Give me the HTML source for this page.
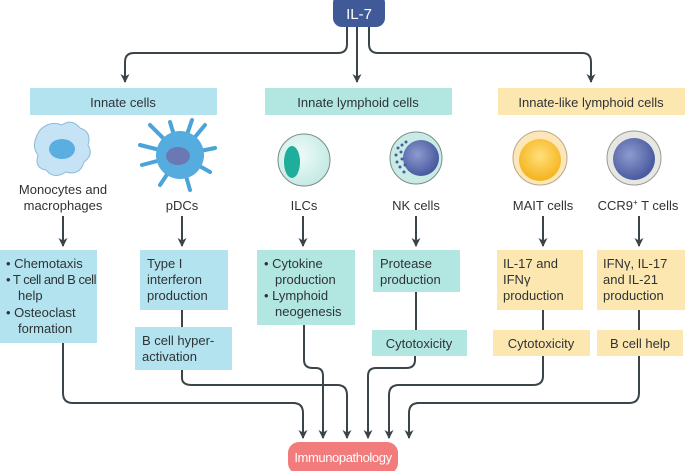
<!DOCTYPE html>
<html><head><meta charset="utf-8"><style>
html,body{margin:0;padding:0;background:#fff;width:685px;height:471px;overflow:hidden}
svg{display:block}
text{font-family:"Liberation Sans",sans-serif;font-size:13px;fill:#2e3336}
</style></head><body>
<svg width="685" height="471" viewBox="0 0 685 471">
<defs>
<marker id="a" markerWidth="10" markerHeight="10" refX="8" refY="4.5" orient="auto" markerUnits="userSpaceOnUse">
<path d="M0,0 L9,4.5 L0,9 L2.5,4.5 Z" fill="#3b4549"/></marker>
<radialGradient id="gy" cx="50%" cy="40%" r="60%"><stop offset="0" stop-color="#ffe07a"/><stop offset="1" stop-color="#f5b21c"/></radialGradient>
<radialGradient id="gb" cx="40%" cy="40%" r="60%"><stop offset="0" stop-color="#8e9bd0"/><stop offset="1" stop-color="#4a5a9f"/></radialGradient>
<radialGradient id="gt" cx="40%" cy="40%" r="70%"><stop offset="0" stop-color="#f0fbf9"/><stop offset="1" stop-color="#bfe8e1"/></radialGradient>
</defs>
<g fill="none" stroke="#3b4549" stroke-width="2">
<path d="M347,27 V44 Q347,53 338,53 H134 Q125,53 125,62 V82" marker-end="url(#a)"/>
<path d="M357,27 V82" marker-end="url(#a)"/>
<path d="M369,27 V44 Q369,53 378,53 H582 Q591,53 591,62 V82" marker-end="url(#a)"/>
<path d="M63,216 V246" marker-end="url(#a)"/>
<path d="M182,216 V246" marker-end="url(#a)"/>
<path d="M303,216 V246" marker-end="url(#a)"/>
<path d="M416,216 V246" marker-end="url(#a)"/>
<path d="M543,216 V246" marker-end="url(#a)"/>
<path d="M639,216 V246" marker-end="url(#a)"/>
<path d="M182,310 V327"/>
<path d="M416,292 V330"/>
<path d="M543,310 V330"/>
<path d="M639,310 V330"/>
<path d="M63,343 V393 Q63,403 73,403 H293 Q303,403 303,413 V438" marker-end="url(#a)"/>
<path d="M182,370 V378 Q182,385 192,385 H337 Q347,385 347,395 V438" marker-end="url(#a)"/>
<path d="M304,325 V360 Q304,368 313,368 H316 Q323,368 323,376 V438" marker-end="url(#a)"/>
<path d="M415,356 V360 Q415,368 406,368 H376 Q368,368 368,376 V438" marker-end="url(#a)"/>
<path d="M543,356 V376 Q543,385 533,385 H399 Q389,385 389,395 V438" marker-end="url(#a)"/>
<path d="M639,356 V393 Q639,403 629,403 H419 Q409,403 409,413 V438" marker-end="url(#a)"/>
</g>
<rect x="333" y="-6" width="52" height="33" rx="9" fill="#3f5a96"/>
<text x="359" y="19" text-anchor="middle" style="fill:#fff;font-size:15px">IL-7</text>
<rect x="30" y="88" width="187" height="27" fill="#b3e3ef"/>
<text x="123" y="107" text-anchor="middle">Innate cells</text>
<rect x="265" y="88" width="187" height="27" fill="#b2e6e0"/>
<text x="358" y="107" text-anchor="middle">Innate lymphoid cells</text>
<rect x="498" y="88" width="187" height="27" fill="#fde7b0"/>
<text x="591" y="107" text-anchor="middle">Innate-like lymphoid cells</text>
<path d="M40,130 Q50,120 62,125 Q72,118 80,128 Q92,132 88,145 Q94,155 84,162 Q80,176 66,172 Q54,180 46,170 Q34,168 38,155 Q30,145 40,130Z" fill="#c6e2f5" stroke="#8bbad8" stroke-width="1"/>
<ellipse cx="62" cy="149" rx="13" ry="10" fill="#5aaee0"/>
<g stroke="#4aa3d9" stroke-width="4" stroke-linecap="round">
<path d="M180,155 L150,125 M180,155 L170,122 M180,155 L192,120 M180,155 L205,125 M180,155 L215,148 M180,155 L210,172 M180,155 L190,190 M180,155 L160,185 M180,155 L142,165 M180,155 L140,145"/>
</g>
<circle cx="180" cy="155" r="24" fill="#55acdf"/>
<ellipse cx="178" cy="156" rx="12" ry="9" fill="#6c78b4"/>
<circle cx="304" cy="160" r="26" fill="url(#gt)" stroke="#7a8c88" stroke-width="1"/>
<ellipse cx="292" cy="162" rx="8" ry="16" fill="#1fae9b"/>
<circle cx="416" cy="158" r="26" fill="#c8ece5" stroke="#7a8c88" stroke-width="1"/>
<circle cx="421" cy="158" r="18" fill="url(#gb)"/>
<g fill="#4a5a9f"><circle cx="398" cy="148" r="1.5"/><circle cx="402" cy="145" r="1.5"/><circle cx="396" cy="155" r="1.5"/><circle cx="401" cy="152" r="1.5"/><circle cx="397" cy="162" r="1.5"/><circle cx="402" cy="159" r="1.5"/><circle cx="400" cy="167" r="1.5"/><circle cx="405" cy="165" r="1.5"/><circle cx="406" cy="142" r="1.5"/><circle cx="404" cy="172" r="1.5"/></g>
<circle cx="540" cy="158" r="27" fill="#fde7b8" stroke="#b8a98a" stroke-width="1"/>
<circle cx="540" cy="160" r="21" fill="url(#gy)"/>
<circle cx="634" cy="158" r="27" fill="#e6e6e2" stroke="#9a9a96" stroke-width="1"/>
<circle cx="634" cy="159" r="21" fill="url(#gb)"/>
<text x="63" y="194" text-anchor="middle">Monocytes and</text>
<text x="63" y="210" text-anchor="middle">macrophages</text>
<text x="182" y="210" text-anchor="middle">pDCs</text>
<text x="304" y="210" text-anchor="middle">ILCs</text>
<text x="416" y="210" text-anchor="middle">NK cells</text>
<text x="543" y="210" text-anchor="middle">MAIT cells</text>
<text x="638" y="210" text-anchor="middle">CCR9<tspan dy="-5" style="font-size:8px">+</tspan><tspan dy="5"> T cells</tspan></text>
<rect x="0" y="250" width="97" height="93" fill="#b3e3ef"/>
<text x="6" y="268">• Chemotaxis</text>
<text x="6" y="284" style="letter-spacing:-0.5px">• T cell and B cell</text>
<text x="18" y="300">help</text>
<text x="6" y="317">• Osteoclast</text>
<text x="18" y="333">formation</text>
<rect x="140" y="250" width="88" height="60" fill="#b3e3ef"/>
<text x="147" y="268">Type I</text>
<text x="147" y="284">interferon</text>
<text x="147" y="300">production</text>
<rect x="135" y="327" width="97" height="43" fill="#b3e3ef"/>
<text x="142" y="345">B cell hyper-</text>
<text x="142" y="361">activation</text>
<rect x="257" y="250" width="98" height="75" fill="#b2e6e0"/>
<text x="264" y="268">• Cytokine</text>
<text x="275" y="284">production</text>
<text x="264" y="300">• Lymphoid</text>
<text x="275" y="316">neogenesis</text>
<rect x="373" y="250" width="87" height="42" fill="#b2e6e0"/>
<text x="380" y="268">Protease</text>
<text x="380" y="284">production</text>
<rect x="372" y="330" width="95" height="26" fill="#b2e6e0"/>
<text x="419" y="348" text-anchor="middle">Cytotoxicity</text>
<rect x="497" y="250" width="86" height="60" fill="#fde7b0"/>
<text x="503" y="268">IL-17 and</text>
<text x="503" y="284">IFNγ</text>
<text x="503" y="300">production</text>
<rect x="597" y="250" width="88" height="60" fill="#fde7b0"/>
<text x="603" y="268">IFNγ, IL-17</text>
<text x="603" y="284">and IL-21</text>
<text x="603" y="300">production</text>
<rect x="493" y="330" width="97" height="26" fill="#fde7b0"/>
<text x="541" y="348" text-anchor="middle">Cytotoxicity</text>
<rect x="597" y="330" width="86" height="26" fill="#fde7b0"/>
<text x="640" y="348" text-anchor="middle">B cell help</text>
<rect x="288" y="442" width="110" height="32" rx="11" fill="#f27b7b"/>
<text x="343" y="462" text-anchor="middle" style="fill:#fff;letter-spacing:-0.4px">Immunopathology</text>
</svg>
</body></html>
